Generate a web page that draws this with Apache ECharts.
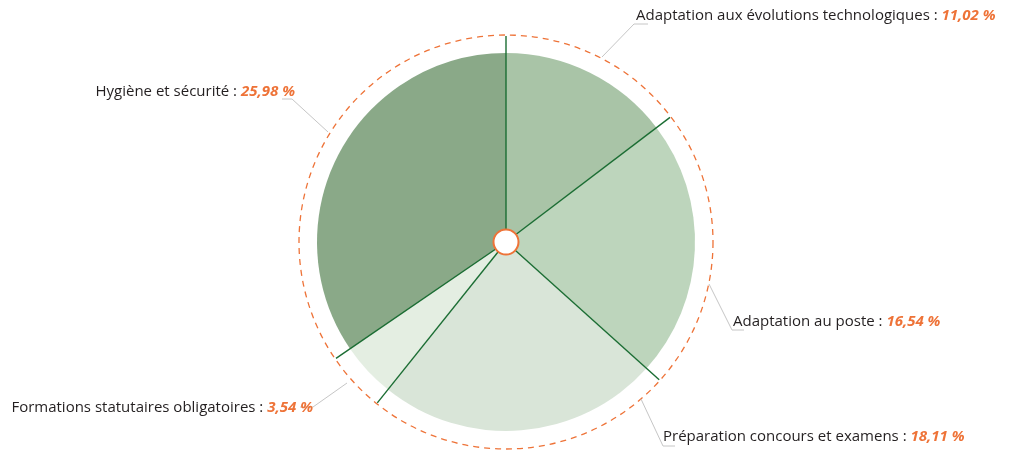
<!DOCTYPE html>
<html>
<head>
<meta charset="utf-8">
<script src="https://cdn.jsdelivr.net/npm/echarts@6/dist/echarts.min.js"></script>
<style>
  html, body { margin: 0; padding: 0; background: #ffffff; }
  #chart { width: 1014px; height: 450px; }
</style>
</head>
<body>
<div id="chart"></div>
<script>
// ---- data ----
const categories = [
  'Adaptation aux évolutions technologiques',
  'Adaptation au poste',
  'Préparation concours et examens',
  'Formations statutaires obligatoires',
  'Hygiène et sécurité'
];
const values = [11.02, 16.54, 18.11, 3.54, 25.98];

// ---- styles / layout ----
const sliceColors = ['#a9c4a7', '#bdd5bc', '#d9e5d8', '#e4eee2', '#8aa988'];
const CX = 506, CY = 242;
const PIE_R = 189, DASH_R = 207, SEP_R = 206;
const ORANGE = '#ee7338';
const SEP_COLOR = '#1b6d33';
const FONT = '"Open Sans", "Noto Sans", sans-serif';

// label anchor (text) + leader line points for each label
const labelLayouts = [
  { x: 636, y: 16, align: 'left',  line: [[602, 57], [634, 24], [648, 24]] },
  { x: 733, y: 322, align: 'left', line: [[709, 284], [732, 330], [744, 330]] },
  { x: 663, y: 437, align: 'left', line: [[641, 399], [663, 446], [675, 446]] },
  { x: 313, y: 408, align: 'right', line: [[347, 383], [313, 407], [300, 407]] },
  { x: 295, y: 92, align: 'right', line: [[328, 132], [292, 99], [282, 99]] }
];

const total = values.reduce((a, b) => a + b, 0);
const boundaries = [];
let acc = 0;
values.forEach(v => { boundaries.push(acc); acc += v; });

const fmt = v => v.toFixed(2).replace('.', ',') + ' %';

const pieData = categories.map((name, i) => ({
  name, value: values[i], itemStyle: { color: sliceColors[i] }
}));

const sepSeries = boundaries.map(b => ({
  type: 'line',
  coordinateSystem: 'polar',
  data: [[0, b], [SEP_R, b]],
  symbol: 'none',
  silent: true,
  z: 3,
  lineStyle: { color: SEP_COLOR, width: 1.4 },
  animation: false
}));

const chart = echarts.init(document.getElementById('chart'), null, { renderer: 'canvas' });
chart.setOption({
  animation: false,
  backgroundColor: '#ffffff',
  polar: { center: [CX, CY], radius: DASH_R },
  angleAxis: {
    type: 'value', min: 0, max: total, startAngle: 90, clockwise: true,
    axisLine: { show: true, lineStyle: { color: ORANGE, width: 1.3, type: [6, 5] } },
    axisTick: { show: false }, axisLabel: { show: false }, splitLine: { show: false }
  },
  radiusAxis: {
    type: 'value', min: 0, max: DASH_R,
    axisLine: { show: false }, axisTick: { show: false }, axisLabel: { show: false }, splitLine: { show: false }
  },
  series: [
    {
      type: 'pie',
      center: [CX, CY],
      radius: [0, PIE_R],
      startAngle: 90,
      clockwise: true,
      z: 2,
      silent: true,
      data: pieData,
      itemStyle: { borderWidth: 0 },
      label: {
        show: true,
        position: 'outside',
        formatter: p => '{n|' + p.name + ' : }{v|' + fmt(p.value) + '}',
        rich: {
          n: { fontFamily: FONT, fontSize: 15, color: '#231f20' },
          v: { fontFamily: FONT, fontSize: 15, color: ORANGE, fontWeight: 'bold', fontStyle: 'italic' }
        }
      },
      labelLine: { show: true, lineStyle: { color: '#c6c6c6', width: 1 } },
      labelLayout: params => {
        const l = labelLayouts[params.dataIndex];
        return {
          x: l.x, y: l.y, align: l.align, verticalAlign: 'middle',
          labelLinePoints: l.line
        };
      }
    },
    ...sepSeries,
    {
      type: 'pie',
      center: [CX, CY],
      radius: [0, 12.5],
      z: 5,
      silent: true,
      label: { show: false },
      labelLine: { show: false },
      data: [{ value: 1, itemStyle: { color: '#ffffff', borderColor: ORANGE, borderWidth: 2 } }]
    }
  ]
});
</script>
</body>
</html>
